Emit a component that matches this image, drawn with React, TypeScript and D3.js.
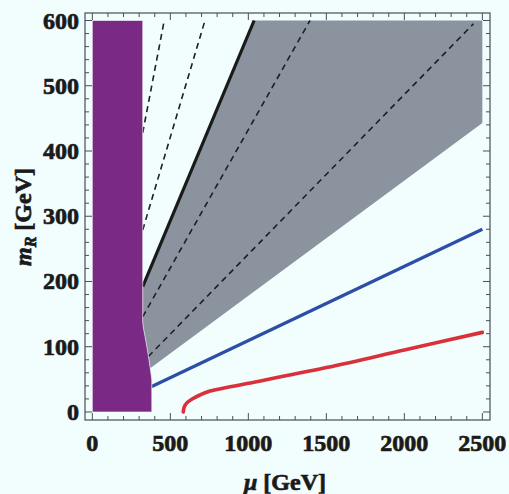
import React from "react";
import * as d3 from "d3";

const xTicks = [0, 500, 1000, 1500, 2000, 2500];
const yTicks = [0, 100, 200, 300, 400, 500, 600];
const xMinor = d3.range(0, 2501, 100);
const yMinor = d3.range(0, 601, 20);

const purpleRegion: [number, number][] = [
  [0, 0], [0, 600], [323, 600], [323, 137], [328, 128], [336, 118], [345, 106],
  [354, 94], [363, 80], [371, 67], [377, 57], [381, 49], [381, 0],
];
const grayRegion: [number, number][] = [
  [323, 192], [1037, 600], [2500, 600], [2500, 443], [371, 67], [363, 80],
  [354, 94], [345, 106], [336, 118], [328, 128], [323, 137],
];
const solidLine: [number, number][] = [[323, 192], [1037, 600]];
const dashedLines: [number, number][][] = [
  [[323, 428], [461, 600]],
  [[323, 279], [722, 600]],
  [[323, 146], [1395, 600]],
  [[359, 85], [2443, 595]],
];
const blueLine: [number, number][] = [[381, 39], [2500, 280]];
const redCurve: [number, number][] = [
  [583, 0], [586, 5], [594, 10], [610, 15], [640, 20], [690, 26], [755, 32], [883, 38.5],
  [1000, 44], [1500, 68], [2000, 95], [2500, 122],
];

const W = 509, H = 494;
const L = 85, R = 490, T = 13, B = 420;

export default function App() {
  const x = d3.scaleLinear().domain([-47, 2549]).range([L, R]);
  const y = d3.scaleLinear().domain([-12.3, 611.5]).range([B, T]);
  const line = d3.line<[number, number]>().x(d => x(d[0])).y(d => y(d[1]));
  const poly = (pts: [number, number][]) => line(pts) + "Z";
  const redLine = d3.line<[number, number]>().x(d => x(d[0])).y(d => y(d[1])).curve(d3.curveCatmullRom.alpha(0.5));
  const fontStyle = { fontFamily: '"Liberation Serif", "Times New Roman", Times, serif', fontWeight: 700 } as React.CSSProperties;
  const textColor = "#1a1a1a";
  const frameColor = "#4a4f55";
  return (
    <div style={{ position: "absolute", left: 0, top: 0 }}>
      <svg width={W} height={H} style={{ display: "block", background: "#f2fdfd" }}>
        <rect x={0} y={0} width={W} height={H} fill="#f2fdfd" />
        <path d={poly(grayRegion)} fill="#8b949e" />
        {dashedLines.map((d, i) => (
          <path key={i} d={line(d)!} fill="none" stroke="#1c1f26" strokeWidth={1.6} strokeDasharray="6,4.5" />
        ))}
        <path d={line(solidLine)!} fill="none" stroke="#1a1a1a" strokeWidth={3.2} />
        <path d={line(blueLine)!} fill="none" stroke="#2c4ea6" strokeWidth={3.2} />
        <path d={redLine(redCurve)!} fill="none" stroke="#d9303a" strokeWidth={3.6} strokeLinecap="round" />
        <path d={poly(purpleRegion)} fill="#7a2a84" stroke="#f2fdfd" strokeWidth={0.6} />
        <rect x={L} y={T} width={R - L} height={B - T} fill="none" stroke={frameColor} strokeWidth={1.2} />
        {xMinor.map(v => {
          const major = v % 500 === 0;
          const len = major ? 7 : 4;
          return (
            <g key={"x" + v} stroke={frameColor} strokeWidth={1}>
              <line x1={x(v)} x2={x(v)} y1={B} y2={B - len} />
              <line x1={x(v)} x2={x(v)} y1={T} y2={T + len} />
            </g>
          );
        })}
        {yMinor.map(v => {
          const major = v % 100 === 0;
          const len = major ? 7 : 4;
          return (
            <g key={"y" + v} stroke={frameColor} strokeWidth={1}>
              <line x1={L} x2={L + len} y1={y(v)} y2={y(v)} />
              <line x1={R} x2={R - len} y1={y(v)} y2={y(v)} />
            </g>
          );
        })}
        <g style={fontStyle} fill={textColor} stroke={textColor} strokeWidth={0.7} fontSize={24}>
          {xTicks.map(v => (
            <text key={"xl" + v} x={x(v)} y={451} textAnchor="middle">
              {v}
            </text>
          ))}
          {yTicks.map(v => (
            <text key={"yl" + v} x={79} y={y(v) + 8} textAnchor="end">
              {v}
            </text>
          ))}
          <text x={285} y={490} textAnchor="middle">
            <tspan fontStyle="italic">μ</tspan> [GeV]
          </text>
          <text transform={`translate(31,217) rotate(-90)`} textAnchor="middle">
            <tspan fontStyle="italic">m</tspan>
            <tspan fontStyle="italic" fontSize={16} dy={5}>R</tspan>
            <tspan dy={-5}> [GeV]</tspan>
          </text>
        </g>
      </svg>
    </div>
  );
}
